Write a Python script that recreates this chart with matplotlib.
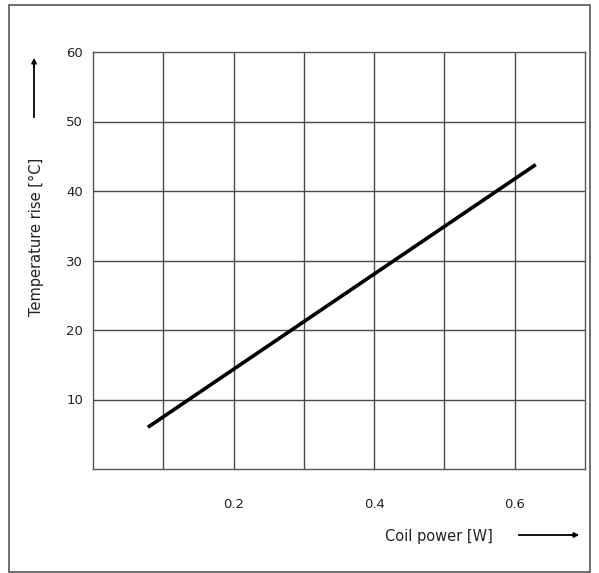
import matplotlib
matplotlib.use("Agg")
import matplotlib.pyplot as plt
from matplotlib.patches import Rectangle

# Data
coil_power = [0.078, 0.630]        # W
temperature_rise = [6.0, 43.8]     # °C
x_ticks = [0.2, 0.4, 0.6]
x_ticklabels = ["0.2", "0.4", "0.6"]
y_ticks = [10, 20, 30, 40, 50, 60]
y_ticklabels = ["10", "20", "30", "40", "50", "60"]

W, H = 599, 573
fig = plt.figure(figsize=(W / 100, H / 100), dpi=100)
fig.patch.set_facecolor("white")

# outer frame
fig.add_artist(Rectangle((9 / W, 1 - 572 / H), (590 - 9) / W, (572 - 5) / H,
                         transform=fig.transFigure, fill=False,
                         edgecolor="#555555", linewidth=1.2))

ax = fig.add_axes([93 / W, 1 - 469 / H, (585 - 93) / W, (469 - 52) / H])
ax.set_xlim(0, 0.7)
ax.set_ylim(0, 60)

# grid
for gx in [0.1, 0.2, 0.3, 0.4, 0.5, 0.6]:
    ax.axvline(gx, color="#4a4a4a", linewidth=1.0, zorder=1)
for gy in [10, 20, 30, 40, 50]:
    ax.axhline(gy, color="#4a4a4a", linewidth=1.0, zorder=1)

ax.plot(coil_power, temperature_rise, color="black", linewidth=2.6,
        solid_capstyle="butt", zorder=3)

ax.set_xticks(x_ticks)
ax.set_xticklabels(x_ticklabels)
ax.set_yticks(y_ticks)
ax.set_yticklabels(y_ticklabels)
ax.tick_params(length=0, labelsize=9.5, colors="#222222")
ax.tick_params(axis="x", pad=21)
ax.tick_params(axis="y", pad=7)
for s in ax.spines.values():
    s.set_color("#555555")
    s.set_linewidth(1.0)

# axis labels with arrows
fig.text(36 / W, 1 - 237 / H, "Temperature rise [°C]", rotation=90,
         ha="center", va="center", fontsize=10.5, color="#222222")
fig.add_artist(plt.Line2D([34 / W, 34 / W], [1 - 117 / H, 1 - 64 / H],
                          transform=fig.transFigure, color="black", linewidth=1.3))
ax.annotate("", xy=(34 / W, 1 - 55 / H), xytext=(34 / W, 1 - 70 / H),
            xycoords="figure fraction", textcoords="figure fraction",
            arrowprops=dict(arrowstyle="-|>", color="black", lw=1.3,
                            mutation_scale=7))

fig.text(439 / W, 1 - 536 / H, "Coil power [W]", ha="center", va="center",
         fontsize=10.5, color="#222222")
fig.add_artist(plt.Line2D([519 / W, 574 / W], [1 - 535 / H, 1 - 535 / H],
                          transform=fig.transFigure, color="black", linewidth=1.3))
ax.annotate("", xy=(582 / W, 1 - 535 / H), xytext=(568 / W, 1 - 535 / H),
            xycoords="figure fraction", textcoords="figure fraction",
            arrowprops=dict(arrowstyle="-|>", color="black", lw=1.3,
                            mutation_scale=7))

fig.savefig("out.png", dpi=100)
